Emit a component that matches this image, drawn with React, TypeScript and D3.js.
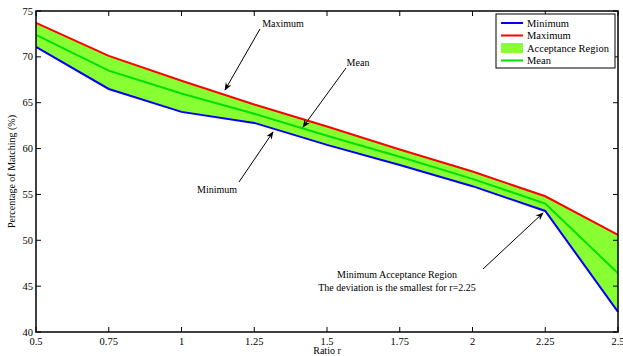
import React from 'react';
import * as d3 from 'd3';

const ratios = [0.5, 0.75, 1, 1.25, 1.5, 1.75, 2, 2.25, 2.5];
const maxValues = [73.7, 70.1, 67.4, 64.8, 62.4, 59.9, 57.5, 54.8, 50.6];
const meanValues = [72.4, 68.5, 66.0, 63.8, 61.4, 59.1, 56.7, 54.0, 46.4];
const minValues = [71.1, 66.5, 64.0, 62.8, 60.4, 58.2, 55.9, 53.2, 42.2];
const xTicks = [0.5, 0.75, 1, 1.25, 1.5, 1.75, 2, 2.25, 2.5];
const yTicks = [40, 45, 50, 55, 60, 65, 70, 75];
const legendItems = ['Minimum', 'Maximum', 'Acceptance Region', 'Mean'];

const W = 623;
const H = 356;
const font = '"Liberation Serif", "DejaVu Serif", serif';

export default function App() {
  const x = d3.scaleLinear().domain([0.5, 2.5]).range([36, 618]);
  const y = d3.scaleLinear().domain([40, 75]).range([332, 11]);

  const line = (vals: number[]) =>
    d3
      .line<number>()
      .x((_, i) => x(ratios[i]))
      .y((v) => y(v))(vals) || '';

  const area =
    d3
      .area<number>()
      .x((_, i) => x(ratios[i]))
      .y0((_, i) => y(minValues[i]))
      .y1((v) => y(v))(maxValues) || '';

  const fillColor = '#88ff33';
  const meanColor = '#00e000';
  const legendColors = ['#0000ff', '#ff0000', fillColor, meanColor];

  const arrows = [
    { x1: 260, y1: 29, x2: 225, y2: 90 },
    { x1: 346, y1: 68, x2: 303, y2: 127 },
    { x1: 239, y1: 182, x2: 273, y2: 132 },
    { x1: 483, y1: 269, x2: 543, y2: 213 }
  ];

  const x0 = x.range()[0];
  const x1 = x.range()[1];
  const yTop = y.range()[1];
  const yBot = y.range()[0];

  return (
    <svg width={W} height={H} style={{ position: 'absolute', left: 0, top: 0, background: '#fff' }}>
      <defs>
        <marker id="ah" viewBox="0 0 10 10" refX="9" refY="5" markerWidth="8" markerHeight="8" orient="auto">
          <path d="M0,1 L10,5 L0,9 L3,5 Z" fill="#000" />
        </marker>
      </defs>

      <path d={area} fill={fillColor} stroke="none" />
      <path d={line(minValues)} fill="none" stroke="#0000ff" strokeWidth={2} />
      <path d={line(maxValues)} fill="none" stroke="#ff0000" strokeWidth={2} />
      <path d={line(meanValues)} fill="none" stroke={meanColor} strokeWidth={2} />

      {/* frame */}
      <rect x={x0} y={yTop} width={x1 - x0} height={yBot - yTop} fill="none" stroke="#000" strokeWidth={1.5} />

      {xTicks.map((t) => (
        <g key={`xt${t}`}>
          <line x1={x(t)} x2={x(t)} y1={yBot} y2={yBot - 5} stroke="#000" />
          <line x1={x(t)} x2={x(t)} y1={yTop} y2={yTop + 5} stroke="#000" />
          <text x={x(t)} y={yBot + 13} textAnchor="middle" fontFamily={font} fontSize={10.5}>
            {String(t)}
          </text>
        </g>
      ))}
      {yTicks.map((t) => (
        <g key={`yt${t}`}>
          <line x1={x0} x2={x0 + 5} y1={y(t)} y2={y(t)} stroke="#000" />
          <line x1={x1} x2={x1 - 5} y1={y(t)} y2={y(t)} stroke="#000" />
          <text x={x0 - 3} y={y(t) + 3.5} textAnchor="end" fontFamily={font} fontSize={10.5}>
            {t}
          </text>
        </g>
      ))}

      <text x={(x0 + x1) / 2} y={354} textAnchor="middle" fontFamily={font} fontSize={10}>
        Ratio r
      </text>
      <text
        transform={`translate(15,${(yTop + yBot) / 2}) rotate(-90)`}
        textAnchor="middle"
        fontFamily={font}
        fontSize={10}
      >
        Percentage of Matching (%)
      </text>

      {/* annotations */}
      {arrows.map((a, i) => (
        <line key={i} x1={a.x1} y1={a.y1} x2={a.x2} y2={a.y2} stroke="#000" strokeWidth={1} markerEnd="url(#ah)" />
      ))}
      <text x={283} y={27} textAnchor="middle" fontFamily={font} fontSize={10}>Maximum</text>
      <text x={358} y={66} textAnchor="middle" fontFamily={font} fontSize={10}>Mean</text>
      <text x={217} y={193} textAnchor="middle" fontFamily={font} fontSize={10}>Minimum</text>
      <text x={397} y={278} textAnchor="middle" fontFamily={font} fontSize={10}>Minimum Acceptance Region</text>
      <text x={397} y={291} textAnchor="middle" fontFamily={font} fontSize={10}>The deviation is the smallest for r=2.25</text>

      {/* legend */}
      <rect x={496} y={14} width={119} height={54} fill="#fff" stroke="#000" strokeWidth={1} />
      {legendItems.map((name, i) => {
        const ly = 23 + i * 12.5;
        return (
          <g key={name}>
            {name === 'Acceptance Region' ? (
              <rect x={501} y={ly - 5} width={22} height={10} fill={legendColors[i]} />
            ) : (
              <line x1={501} x2={523} y1={ly} y2={ly} stroke={legendColors[i]} strokeWidth={2} />
            )}
            <text x={527} y={ly + 3.5} fontFamily={font} fontSize={10.5}>
              {name}
            </text>
          </g>
        );
      })}
    </svg>
  );
}
